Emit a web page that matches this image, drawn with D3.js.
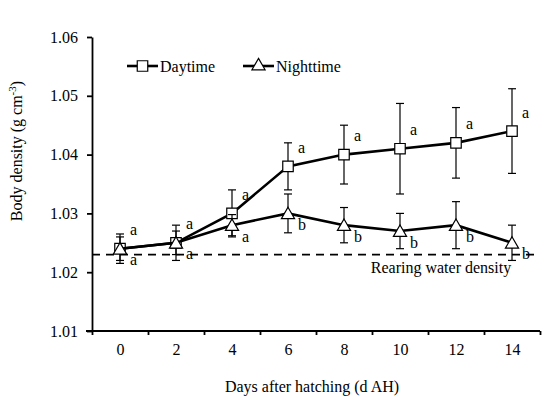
<!DOCTYPE html>
<html>
<head>
<meta charset="utf-8">
<script src="https://cdn.jsdelivr.net/npm/d3@7"></script>
<style>
  body { margin: 0; background: #fff; }
  text { font-family: "Liberation Serif", "Times New Roman", serif; fill: #000; }
</style>
</head>
<body>
<svg id="chart" width="553" height="408"></svg>
<script>
// values
const days = [0, 2, 4, 6, 8, 10, 12, 14];
const dayMean = [1.024, 1.025, 1.030, 1.038, 1.040, 1.041, 1.042, 1.044];
const dayErr = [0.0025, 0.003, 0.004, 0.004, 0.005, 0.0077, 0.006, 0.0072];
const nightMean = [1.024, 1.025, 1.028, 1.030, 1.028, 1.027, 1.028, 1.025];
const nightErr = [0.002, 0.002, 0.0018, 0.0033, 0.003, 0.003, 0.004, 0.003];
const dayLetters = ["a", "a", "a", "a", "a", "a", "a", "a"];
const nightLetters = ["a", "a", "a", "b", "b", "b", "b", "b"];
const yTicks = [1.01, 1.02, 1.03, 1.04, 1.05, 1.06];
const waterDensity = 1.023;

const svg = d3.select("#chart");

// x ticks sit between the days, labels under each day
const x = d3.scaleLinear().domain([-1, 15]).range([92, 540]);
const y = d3.scaleLinear().domain([1.01, 1.06]).range([331, 37]);

const axisW = 1.8;
const serif = '"Liberation Serif", "Times New Roman", serif';

// x axis line + tick marks
const xAxis = svg.append("g")
  .attr("transform", "translate(0,331)")
  .call(d3.axisBottom(x)
    .tickValues(d3.range(-1, 16, 2))
    .tickFormat("")
    .tickSizeInner(4)
    .tickSizeOuter(0));
xAxis.select(".domain").remove();
xAxis.selectAll("line").attr("stroke-width", axisW);
svg.append("line")
  .attr("x1", 86).attr("x2", x(15))
  .attr("y1", 331).attr("y2", 331)
  .attr("stroke", "#000").attr("stroke-width", axisW);

// x tick labels
const xLab = svg.append("g")
  .attr("transform", "translate(0,331)")
  .call(d3.axisBottom(x).tickValues(days).tickSize(0).tickPadding(13));
xLab.select(".domain").remove();
xLab.selectAll("text").style("font-size", "16px");

// y axis
const yAxis = svg.append("g")
  .attr("transform", "translate(92,0)")
  .call(d3.axisLeft(y)
    .tickValues(yTicks)
    .tickFormat(d3.format(".2f"))
    .tickSizeInner(5)
    .tickSizeOuter(0)
    .tickPadding(9));
yAxis.select(".domain").attr("stroke-width", axisW);
yAxis.selectAll("line").attr("stroke-width", axisW);
yAxis.selectAll("text").style("font-size", "16px");

// axis titles
svg.append("text")
  .attr("x", 312).attr("y", 392)
  .attr("text-anchor", "middle")
  .style("font-size", "16px")
  .text("Days after hatching (d AH)");

const yTitle = svg.append("text")
  .attr("transform", "translate(22,151) rotate(-90)")
  .attr("text-anchor", "middle")
  .style("font-size", "16px");
yTitle.append("tspan").text("Body density (g cm");
yTitle.append("tspan").attr("dy", -6).style("font-size", "11px").text("-3");
yTitle.append("tspan").attr("dy", 6).text(")");

// rearing water reference line
svg.append("line")
  .attr("x1", 92).attr("x2", x(15))
  .attr("y1", y(waterDensity)).attr("y2", y(waterDensity))
  .attr("stroke", "#000").attr("stroke-width", 1.8)
  .attr("stroke-dasharray", "8,6");
svg.append("text")
  .attr("x", 441).attr("y", 273)
  .attr("text-anchor", "middle")
  .style("font-size", "16px")
  .text("Rearing water density");

// series
const series = [
  { mean: dayMean, err: dayErr, letters: dayLetters, shape: "square", dy: -19 },
  { mean: nightMean, err: nightErr, letters: nightLetters, shape: "triangle", dy: 11 }
];

const line = d3.line().x(d => x(d.day)).y(d => y(d.v));
const sym = {
  square: d3.symbol().type(d3.symbolSquare).size(110),
  triangle: d3.symbol().type(d3.symbolTriangle).size(75)
};

series.forEach(s => {
  const pts = days.map((d, i) => ({ day: d, v: s.mean[i], e: s.err[i], l: s.letters[i] }));
  const g = svg.append("g");

  // error bars
  const eb = g.selectAll(".eb").data(pts).enter().append("g")
    .attr("stroke", "#000").attr("stroke-width", 1.2);
  eb.append("line")
    .attr("x1", d => x(d.day)).attr("x2", d => x(d.day))
    .attr("y1", d => y(d.v - d.e)).attr("y2", d => y(d.v + d.e));
  eb.append("line")
    .attr("x1", d => x(d.day) - 4).attr("x2", d => x(d.day) + 4)
    .attr("y1", d => y(d.v + d.e)).attr("y2", d => y(d.v + d.e));
  eb.append("line")
    .attr("x1", d => x(d.day) - 4).attr("x2", d => x(d.day) + 4)
    .attr("y1", d => y(d.v - d.e)).attr("y2", d => y(d.v - d.e));

  s.g = g;
  s.pts = pts;
});

series.forEach(s => {
  s.g.append("path")
    .datum(s.pts)
    .attr("d", line)
    .attr("fill", "none")
    .attr("stroke", "#000")
    .attr("stroke-width", 2.6);
});

series.forEach(s => {
  s.g.selectAll(".pt").data(s.pts).enter().append("path")
    .attr("d", sym[s.shape])
    .attr("transform", d => `translate(${x(d.day)},${y(d.v) + (s.shape === "triangle" ? 1.5 : 0)})`)
    .attr("fill", "#fff")
    .attr("stroke", "#000")
    .attr("stroke-width", 1.2);

  s.g.selectAll(".lt").data(s.pts).enter().append("text")
    .attr("x", d => x(d.day) + 10)
    .attr("y", d => y(d.v) + s.dy)
    .attr("dy", "0.35em")
    .style("font-size", "16px")
    .text(d => d.l);
});

// legend
const legend = [
  { name: "Daytime", shape: "square", x0: 127 },
  { name: "Nighttime", shape: "triangle", x0: 243 }
];
legend.forEach(l => {
  const g = svg.append("g").attr("transform", `translate(${l.x0},66)`);
  g.append("line").attr("x1", 0).attr("x2", 31).attr("y1", 0).attr("y2", 0)
    .attr("stroke", "#000").attr("stroke-width", 2.6);
  g.append("path").attr("d", sym[l.shape])
    .attr("transform", "translate(15.5,0)")
    .attr("fill", "#fff").attr("stroke", "#000").attr("stroke-width", 1.2);
  g.append("text").attr("x", 33).attr("y", 0).attr("dy", "0.35em")
    .style("font-size", "16px").text(l.name);
});

// one serif face and plain black for every label, axes included
svg.selectAll("text")
  .style("font-family", serif)
  .style("fill", "#000");
</script>
</body>
</html>
